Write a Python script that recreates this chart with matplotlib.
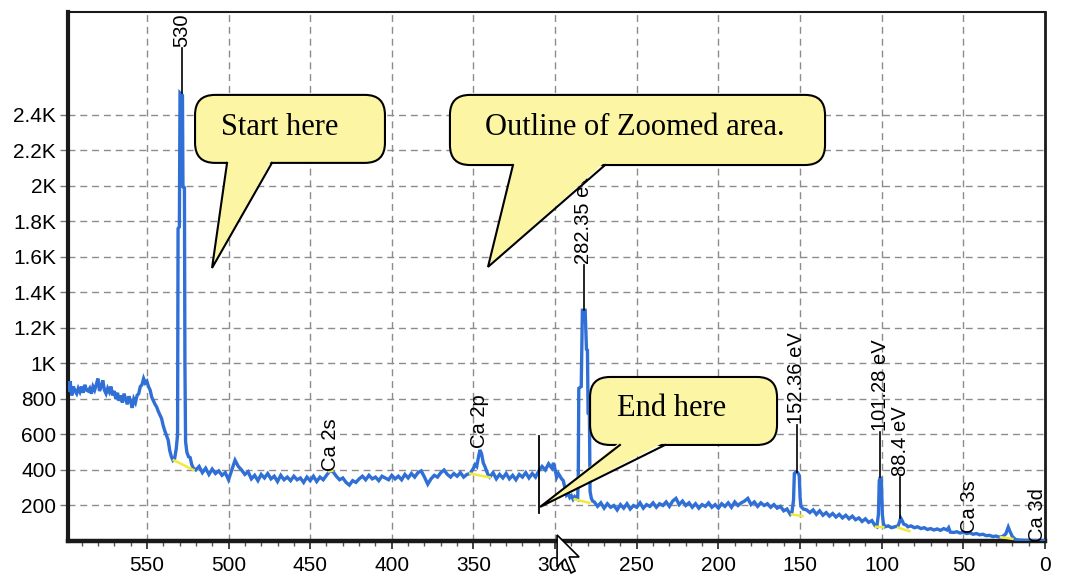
import matplotlib

matplotlib.use("Agg")
import matplotlib.pyplot as plt
from matplotlib.lines import Line2D
from matplotlib.patches import FancyBboxPatch, Polygon
from matplotlib.ticker import FixedLocator, MultipleLocator
from matplotlib.transforms import IdentityTransform

# ======================= Data =================================================
# survey spectrum: (binding energy eV, counts)
o_region = [
    (598, 850), (597, 900), (596, 820), (595, 870), (594, 845), (593, 830),
    (592, 860), (591, 840), (590, 870), (589, 835), (588, 880), (587, 850),
    (586, 845), (585, 860), (584, 830), (583, 870), (582, 850), (581, 880),
    (580, 915), (579, 845), (578, 870), (577, 905), (576, 850), (575, 830),
    (574, 860), (573, 840), (572, 870), (571, 820), (570, 845), (569, 800),
    (568, 835), (567, 790), (566, 820), (565, 780), (564, 830), (563, 800),
    (562, 770), (561, 815), (560, 790), (559, 750), (558, 800), (557, 780),
    (556, 820), (555, 830), (554, 870), (553, 880), (552, 915), (551, 890),
    (550, 900), (549, 870), (548, 850), (547, 810), (546, 790), (545, 770),
    (544, 755), (543, 730), (542, 710), (541, 690), (540, 650), (539, 620),
    (538, 595), (537, 570), (536, 510), (535, 475), (534, 455), (533, 465),
    (532, 520), (531.2, 600), (530.9, 1760), (530.1, 1770), (529.7, 2524),
    (528.2, 2510), (527.9, 1995), (527.0, 1990), (526.7, 1000), (526.3, 560),
    (525.5, 500), (524.5, 475), (523.5, 470), (522.5, 430), (521.5, 410),
]
ca2s_region = [
    (520, 400), (518, 420), (516, 385), (514, 410), (512, 375), (510, 405),
    (508, 380), (506, 395), (504, 370), (502, 385), (500, 345), (498, 400),
    (496, 455), (494, 420), (492, 400), (490, 375), (488, 390), (486, 350),
    (484, 370), (482, 340), (480, 375), (478, 355), (476, 380), (474, 350),
    (472, 365), (470, 335), (468, 370), (466, 345), (464, 360), (462, 340),
    (460, 365), (458, 345), (456, 355), (454, 330), (452, 360), (450, 340),
    (448, 365), (446, 335), (444, 360), (442, 345), (440, 370), (438, 395),
    (436, 390), (434, 365), (432, 345), (430, 355), (428, 330), (426, 315),
    (424, 340), (422, 330), (420, 350), (418, 365), (416, 345), (414, 370),
    (412, 350), (410, 360), (408, 340), (406, 365), (404, 355), (402, 345),
    (400, 370), (398, 350), (396, 365), (394, 345), (392, 375), (390, 355),
    (388, 380), (386, 360), (384, 385), (382, 395), (380, 360), (378, 320),
    (376, 350), (374, 370), (372, 360), (370, 385), (368, 400), (366, 375),
    (364, 360), (362, 380), (360, 365), (358, 385), (356, 360), (354, 375),
]
ca2p_c1s_region = [
    (352, 380), (350, 410), (349, 430), (348, 420), (347, 470), (346, 513),
    (345, 490), (344, 440), (343, 420), (342, 395), (341, 372), (340, 360),
    (338, 385), (336, 350), (334, 375), (332, 355), (330, 380), (328, 350),
    (326, 370), (324, 345), (322, 375), (320, 360), (318, 385), (316, 355),
    (314, 380), (312, 360), (310, 395), (308, 420), (306, 400), (304, 435),
    (302, 410), (301, 440), (300, 400), (299, 360), (298, 380), (296, 350),
    (295, 340), (294, 300), (293, 259), (292, 270), (291, 245), (290, 255),
    (289, 235), (288, 250), (287, 240), (286.2, 235), (285.8, 380),
    (285.5, 860), (284.0, 870), (283.3, 1300), (281.6, 1300), (280.8, 1080),
    (280.2, 1075), (279.8, 720), (279.0, 715), (278.6, 280), (277.8, 240),
    (277.0, 225),
]
low_region = [
    (276, 220), (274, 195), (272, 215), (270, 185), (268, 210), (266, 190),
    (264, 200), (262, 175), (260, 205), (258, 185), (256, 210), (254, 180),
    (252, 200), (250, 190), (248, 215), (246, 185), (244, 205), (242, 195),
    (240, 215), (238, 190), (236, 210), (234, 200), (232, 220), (230, 195),
    (228, 225), (226, 240), (224, 205), (222, 225), (220, 200), (218, 215),
    (216, 190), (214, 210), (212, 185), (210, 205), (208, 195), (206, 215),
    (204, 190), (202, 205), (200, 185), (198, 210), (196, 195), (194, 215),
    (192, 190), (190, 220), (188, 200), (186, 215), (184, 225), (182, 240),
    (180, 205), (178, 220), (176, 195), (174, 215), (172, 200), (170, 210),
    (168, 190), (166, 205), (164, 185), (162, 195), (160, 170), (158, 180),
    (156, 150), (155, 160), (154, 230), (153.5, 380), (152.5, 389),
    (151.5, 385), (150.5, 370), (150, 250), (149.5, 195), (148, 180),
    (146, 175), (144, 160), (142, 175), (140, 150), (138, 170), (136, 145),
    (134, 160), (132, 140), (130, 155), (128, 135), (126, 150), (124, 130),
    (122, 145), (120, 125), (118, 140), (116, 120), (114, 130), (112, 110),
    (110, 125), (108, 105), (106, 115), (104, 85), (103, 80), (102, 150),
    (101.5, 340), (100.8, 360), (100.2, 340), (99.6, 150), (99, 100),
    (98, 80), (96, 85), (94, 75), (92, 80), (90, 85), (89, 110), (88.4, 130),
    (87.5, 115), (86.5, 95), (85, 90), (84, 80), (82, 85), (80, 75),
    (78, 80), (76, 70), (74, 75), (72, 65), (70, 70), (68, 62), (66, 68),
    (64, 60), (62, 70), (60, 62), (59, 75), (58, 50), (56, 48), (54, 52),
    (52, 45), (50, 50), (48, 42), (46, 46), (44, 38), (42, 42), (40, 35),
    (38, 38), (36, 30), (34, 32), (32, 25), (30, 28), (28, 22), (26, 25),
    (24, 40), (23, 65), (22.5, 78), (21.5, 55), (20, 25), (18, 8), (16, 5),
    (14, 4), (12, 3), (10, 3), (8, 2), (6, 2), (4, 1), (2, 1), (0, 1),
]

spectrum = o_region + ca2s_region + ca2p_c1s_region + low_region
energy = [p[0] for p in spectrum]
counts = [p[1] for p in spectrum]

# peak markers with a leader line
peak_text = ["530", "282.35 eV", "152.36 eV", "101.28 eV", "88.4 eV"]
peak_x = [528.7, 282.35, 152.0, 101.0, 88.6]
peak_top = [2524, 1300, 389, 360, 130]
peak_label_y = [2778, 1555, 654, 614, 360]

# element labels
elem_text = ["Ca 2s", "Ca 2p", "Ca 3s", "Ca 3d"]
elem_x = [437.8, 346.0, 46.0, 4.6]
elem_y = [394, 525, 45, -5]

# yellow background segments under peaks
bg_start = [(533.5, 455), (438.5, 392), (352, 380), (288, 235), (155, 150),
            (103.5, 80), (90, 75), (27, 22)]
bg_end = [(521.5, 400), (436.5, 395), (340, 358), (279, 215), (148.5, 140),
          (99, 78), (83, 55), (20, 12)]

# zoom outline marker
zoom_x = 310
zoom_span = (158, 590)

x_ticks = [550, 500, 450, 400, 350, 300, 250, 200, 150, 100, 50, 0]
y_ticks = [200, 400, 600, 800, 1000, 1200, 1400, 1600, 1800, 2000, 2200, 2400]
y_tick_labels = ["200", "400", "600", "800", "1K", "1.2K", "1.4K", "1.6K",
                 "1.8K", "2K", "2.2K", "2.4K"]

# callouts: box (x0, x1, y0, y1), tail base x on bottom edge, tip, text position
callout_text = ["Start here", "Outline of Zoomed area.", "End here"]
callout_box = [(520.5, 404.2, 2130, 2513), (364.4, 134.7, 2118, 2513),
               (278.6, 164.1, 541, 924)]
callout_base = [(500.9, 473.4), (325.8, 269.4), (260.3, 232.7)]
callout_tip = [(510.1, 1538), (341.1, 1544), (309.2, 192)]
callout_text_pos = [(468.5, 2327), (251.1, 2327), (228.4, 745)]

cursor_tip = (298.8, 34)

# ======================= Plot ==========================
plt.rcParams["font.family"] = ["Liberation Sans", "DejaVu Sans"]

fig = plt.figure(figsize=(10.67, 5.79), dpi=100)
ax = fig.add_axes([68 / 1067, 1 - 541 / 579, (1045 - 68) / 1067, (541 - 12) / 579])

blue = "#2f6fd6"
ax.plot(energy, counts, color=blue, lw=2.4, zorder=3, solid_joinstyle="miter")

for (xa, ya), (xb, yb) in zip(bg_start, bg_end):
    ax.plot([xa, xb], [ya, yb], color="#f2ea3a", lw=1.8, zorder=4)

for txt, x, top, ly in zip(peak_text, peak_x, peak_top, peak_label_y):
    ax.plot([x, x], [top, ly], color="black", lw=1.2, zorder=4)
    ax.text(x, ly + 5, txt, rotation=90, ha="center", va="bottom",
            fontsize=14.5, zorder=5)

for txt, x, y in zip(elem_text, elem_x, elem_y):
    ax.text(x, y, txt, rotation=90, ha="center", va="bottom",
            fontsize=14.5, zorder=5)

ax.plot([zoom_x, zoom_x], zoom_span, color="black", lw=1.3, zorder=4)

ax.set_xlim(598.3, 0)
ax.set_ylim(0, 2980)

ax.xaxis.set_major_locator(FixedLocator(x_ticks))
ax.set_xticklabels([str(v) for v in x_ticks])
ax.xaxis.set_minor_locator(MultipleLocator(10))
ax.yaxis.set_major_locator(FixedLocator(y_ticks))
ax.set_yticklabels(y_tick_labels)

ax.tick_params(axis="x", which="major", direction="out", length=6, width=1.3,
               labelsize=15, pad=5, color="#333333")
ax.tick_params(axis="x", which="minor", direction="out", length=3.5, width=1,
               color="#555555")
ax.tick_params(axis="y", which="major", direction="out", length=5.5, width=1,
               labelsize=15, pad=3, color="#777777")

ax.grid(True, which="major", color="#8c8c8c", linestyle=(0, (5, 3.5)), lw=1)
ax.set_axisbelow(True)

ax.spines["left"].set_linewidth(3.0)
ax.spines["bottom"].set_linewidth(3.2)
ax.spines["top"].set_linewidth(1.5)
ax.spines["right"].set_linewidth(2.0)
ax.spines["right"].set_linestyle((0, (3, 1)))
for s in ax.spines.values():
    s.set_color("#1a1a1a")

# -------------- speech-bubble callouts (drawn in pixel space) --------------
fill = "#fcf6a4"
to_px = ax.transData.transform
for txt, box, base, tip, tpos in zip(callout_text, callout_box, callout_base,
                                     callout_tip, callout_text_pos):
    (ax0, ay0), (ax1, ay1) = to_px([(box[0], box[2]), (box[1], box[3])])
    x0, x1 = sorted([ax0, ax1])
    y0, y1 = sorted([ay0, ay1])
    fig.add_artist(FancyBboxPatch((x0, y0), x1 - x0, y1 - y0,
                                  boxstyle="round,pad=0,rounding_size=20",
                                  transform=IdentityTransform(), fc=fill,
                                  ec="black", lw=1.5, zorder=10))
    bx = [to_px((b, box[2]))[0] for b in base]
    tx, ty = to_px(tip)
    fig.add_artist(Polygon([(bx[0], y0 + 3), (bx[1], y0 + 3), (tx, ty)],
                           closed=True, transform=IdentityTransform(),
                           fc=fill, ec="none", zorder=11))
    fig.add_artist(Line2D([bx[0], tx, bx[1]], [y0, ty, y0],
                          transform=IdentityTransform(), color="black",
                          lw=1.5, solid_joinstyle="miter", zorder=12))
    px, py = to_px(tpos)
    fig.text(px / fig.bbox.width, py / fig.bbox.height, txt, ha="center",
             va="center", fontsize=22, family="Liberation Serif", zorder=13)

# mouse pointer left in the screenshot
cx, cy = to_px(cursor_tip)
arrow = [(0, 0), (0, 32), (8, 24), (14, 38), (18, 36), (12, 22), (22, 22)]
fig.add_artist(Polygon([(cx + dx, cy - dy) for dx, dy in arrow], closed=True,
                       transform=IdentityTransform(), fc="white", ec="black",
                       lw=1.2, zorder=14))

fig.savefig("out.png", dpi=100)
